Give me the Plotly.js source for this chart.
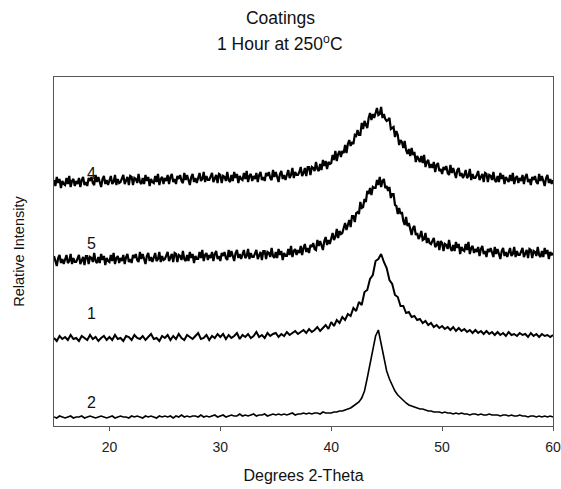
<!DOCTYPE html>
<html>
<head>
<meta charset="utf-8">
<script src="https://cdn.plot.ly/plotly-3.0.1.min.js"></script>
<style>html,body{margin:0;padding:0;background:#fff;}#chart{width:561px;height:489px;}</style>
</head>
<body>
<div id="chart"></div>
<script>
// Degrees 2-Theta sampling: start 15 to 60
var thetaStart = 15;
var fineStep = 0.125;   // samples 4 and 5
var coarseStep = 0.25;  // samples 1 and 2

// Relative intensity (arbitrary units, curves stacked), one row per degree
var sample4 = [
246,240,249,243,247,238,245,242, 241,248,242,250,239,245,247,240,
245,242,248,239,246,249,241,244, 240,248,245,249,243,241,251,244,
249,244,239,247,250,242,246,241, 245,250,242,244,251,241,247,243,
244,247,251,242,245,249,241,250, 249,241,248,247,243,252,244,242,
248,242,251,245,249,240,247,244, 243,250,244,252,241,247,249,242,
248,245,251,242,249,252,244,247, 242,250,247,251,245,243,253,246,
251,246,241,249,252,244,248,243, 248,253,245,247,254,244,250,246,
246,249,253,244,247,251,243,252, 251,243,250,249,245,254,246,244,
251,245,254,248,252,243,250,247, 246,253,247,255,244,250,252,245,
250,247,253,244,251,254,246,249, 245,253,250,254,248,246,256,249,
254,249,244,252,255,247,251,246, 251,256,248,251,258,248,254,251,
251,254,259,250,253,258,250,259, 259,251,259,258,255,264,257,255,
262,256,266,260,265,257,264,262, 263,271,266,275,265,272,275,269,
275,273,281,273,282,286,280,284, 282,291,290,296,291,291,303,297,
305,302,298,308,313,306,312,308, 313,318,311,312,319,308,312,307,
305,306,308,297,298,299,289,295, 291,281,286,284,278,285,276,272,
277,270,278,271,274,264,270,266, 264,270,263,271,259,264,266,258,
262,258,264,254,261,263,255,257, 252,259,256,260,253,251,261,253,
258,253,248,256,258,250,253,248, 251,256,248,250,257,246,252,248,
248,251,255,246,249,252,244,253, 252,244,251,250,246,254,246,244,
250,244,253,247,251,242,249,246, 244,251,245,253,242,248,250,243,
248,245,251,242,249,252,244,247, 241,249,246,250,244,242,252,245,
250,245,240,248,251,243,247,242,
246
];
var sample5 = [
170,165,160,168,171,163,167,162, 166,171,163,165,172,162,168,164,
164,167,171,162,165,169,161,170, 170,162,169,168,164,173,165,163,
169,163,172,166,170,161,168,165, 164,171,165,173,162,168,170,163,
168,165,171,162,169,172,164,167, 163,171,168,172,166,164,174,167,
172,167,162,170,173,165,169,164, 168,173,165,167,174,164,170,166,
167,170,174,165,168,172,164,173, 172,164,171,170,166,175,167,165,
171,165,174,168,172,163,170,167, 167,174,168,176,165,171,173,166,
171,168,174,165,172,175,167,170, 165,173,170,174,168,166,176,169,
175,170,165,173,176,168,172,167, 171,176,168,170,177,167,173,169,
169,172,176,167,170,174,166,175, 175,167,174,173,169,178,170,168,
174,168,177,171,175,166,173,170, 170,177,171,180,169,175,177,171,
176,173,180,171,178,182,174,178, 173,181,179,183,177,176,186,180,
185,181,176,185,189,181,186,182, 187,193,186,189,197,188,195,192,
193,198,203,196,200,206,199,210, 210,204,213,214,212,224,218,219,
227,224,235,232,238,231,239,238, 238,246,241,249,239,245,247,238,
240,235,239,228,232,232,221,220, 212,218,212,214,205,201,209,200,
203,197,191,198,200,191,193,187, 190,195,186,187,193,183,188,183,
182,185,188,179,181,185,176,185, 183,175,182,181,177,186,178,175,
181,175,184,178,182,172,179,176, 175,182,176,184,172,178,180,173,
177,174,179,170,177,180,172,175, 169,177,174,178,172,169,179,172,
177,172,167,175,178,170,174,169, 173,178,170,172,179,169,175,171,
171,174,178,169,172,176,168,177, 176,168,175,174,170,179,171,169,
175,169,178,172,176,167,174,171,
173
];
var sample1 = [
88,85,90,87,89,86,91,87,88,85,90,88,86,91,87,89,85,88,90,86,
89,86,91,87,88,85,90,89,86,91,88,87,90,86,89,92,87,88,85,90,
88,91,86,90,87,92,88,86,91,89,87,90,93,87,88,91,86,90,88,92,
89,92,87,91,88,90,93,87,91,89,92,88,90,94,89,91,88,93,90,92,
93,89,92,90,94,91,93,95,92,94,96,93,97,94,96,99,95,98,101,97,
104,100,106,103,109,106,112,110,118,115,124,121,134,136,147,151,165,167,172,164,
158,146,142,131,129,120,120,113,114,109,110,106,107,103,105,101,103,99,101,98,
100,97,99,96,99,95,98,95,97,94,96,93,96,93,95,92,95,92,94,91,
94,91,93,90,94,91,92,90,93,91,92,89,93,90,92,89,92,90,91,89,
91
];
var sample2 = [
9,8,10,9,8,9,10,8,9,9,10,8,9,10,9,8,9,10,9,8,
9,10,8,9,10,9,9,8,10,9,10,9,8,10,9,10,9,8,10,9,
10,9,10,8,10,9,11,9,10,9,10,10,9,11,9,10,9,10,11,9,
10,11,9,10,11,10,10,12,10,11,10,11,12,10,11,11,12,10,11,12,
11,12,11,12,11,12,13,11,12,12,13,12,13,12,13,13,12,14,13,13,
13,14,14,15,15,16,17,18,20,22,24,28,35,48,62,77,90,96,83,67,
55,47,40,35,31,28,25,23,21,20,19,18,17,17,16,15,15,14,14,14,
13,14,13,13,12,13,12,13,12,12,11,12,12,11,12,11,11,12,11,11,
11,10,11,11,10,11,10,10,11,10,10,9,10,10,9,10,9,10,9,10,
9
];

var titleLine1 = 'Coatings';
var titleLine2 = '1 Hour at 250<sup>o</sup>C';

var curveNames = ['4', '5', '1', '2'];
var curveData = [sample4, sample5, sample1, sample2];
var curveSteps = [fineStep, fineStep, coarseStep, coarseStep];
var curveWidths = [2.2, 2.2, 2, 1.6];
var labelX = [18.4, 18.4, 18.4, 18.4];
var labelY = [253, 183, 113, 24];

var traces = curveData.map(function (ys, i) {
  return {
    type: 'scatter', mode: 'lines', name: curveNames[i],
    x0: thetaStart, dx: curveSteps[i], y: ys,
    line: {color: '#000', width: curveWidths[i]},
    hoverinfo: 'x+y'
  };
});

var FONT = 'Liberation Sans, Arial, sans-serif';
var annotations = curveNames.map(function (n, i) {
  return {x: labelX[i], y: labelY[i], xref: 'x', yref: 'y', text: n, showarrow: false,
          font: {family: FONT, size: 16, color: '#111'}};
});
annotations.push({
  text: titleLine2, xref: 'paper', yref: 'paper', x: 0.4539, y: 1.0974,
  xanchor: 'center', yanchor: 'middle', showarrow: false,
  font: {family: FONT, size: 17.5, color: '#111'}
});

var layout = {
  width: 561, height: 489,
  margin: {l: 54, r: 8, t: 77, b: 63},
  paper_bgcolor: '#fff', plot_bgcolor: '#fff',
  showlegend: false,
  font: {family: FONT, color: '#222'},
  title: {
    text: titleLine1,
    x: 0.5, xref: 'container', xanchor: 'center',
    y: 0.9632, yref: 'container', yanchor: 'middle',
    font: {size: 17.5, color: '#111'}
  },
  xaxis: {
    range: [15, 60], tickvals: [20, 30, 40, 50, 60], ticktext: ['20', '30', '40', '50', '60'],
    ticks: 'outside', ticklen: 4, tickcolor: '#555', tickwidth: 1, ticklabelstandoff: 4,
    showline: true, linecolor: '#555', linewidth: 1, mirror: true,
    showgrid: false, zeroline: false,
    tickfont: {size: 14, color: '#222'},
    title: {text: 'Degrees 2-Theta', font: {size: 16, color: '#111'}, standoff: 16}
  },
  yaxis: {
    range: [0, 349], showticklabels: false, ticks: '',
    showline: true, linecolor: '#555', linewidth: 1, mirror: true,
    showgrid: false, zeroline: false,
    title: {text: 'Relative Intensity', font: {size: 14.5, color: '#111'}, standoff: 24}
  },
  annotations: annotations
};

Plotly.newPlot('chart', traces, layout, {displayModeBar: false, staticPlot: true});
</script>
</body>
</html>
